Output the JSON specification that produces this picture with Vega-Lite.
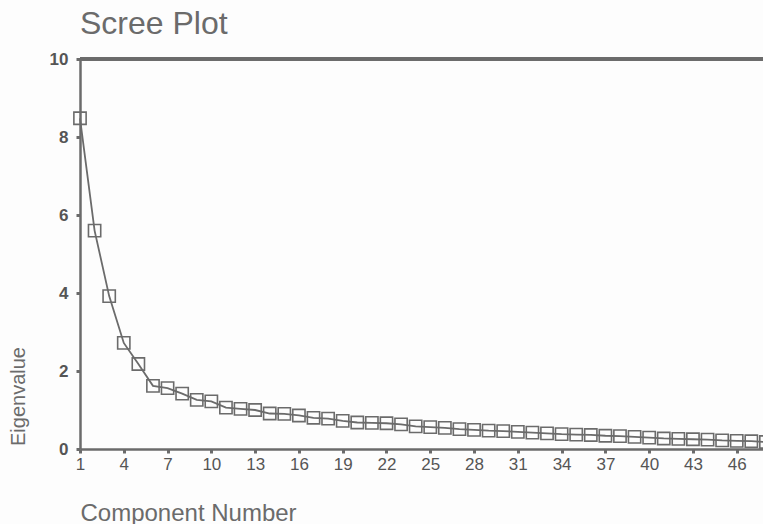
{
  "$schema": "https://vega.github.io/schema/vega-lite/v6.json",
  "width": 683,
  "height": 390,
  "autosize": {"type": "none"},
  "padding": {"left": 80, "top": 59, "right": 0, "bottom": 75},
  "background": "#fdfdfd",
  "config": {
    "font": "Liberation Sans",
    "view": {"stroke": null},
    "axis": {"domainColor": "#6b6b6b", "domainWidth": 2.5, "tickColor": "#6b6b6b", "tickWidth": 3, "tickSize": 4, "grid": false, "labelColor": "#555555", "labelFont": "Liberation Sans", "titleColor": "#6b6b6b", "titleFont": "Liberation Sans", "titleFontWeight": "normal"}
  },
  "title": {"text": "Scree Plot", "anchor": "start", "frame": "group", "fontSize": 32, "fontWeight": "normal", "color": "#6b6b6b", "offset": 9, "font": "Liberation Sans"},
  "data": {"values": [
    {"component": 1, "eigenvalue": 8.48},
    {"component": 2, "eigenvalue": 5.6},
    {"component": 3, "eigenvalue": 3.92},
    {"component": 4, "eigenvalue": 2.72},
    {"component": 5, "eigenvalue": 2.18},
    {"component": 6, "eigenvalue": 1.62},
    {"component": 7, "eigenvalue": 1.56},
    {"component": 8, "eigenvalue": 1.42},
    {"component": 9, "eigenvalue": 1.26},
    {"component": 10, "eigenvalue": 1.22},
    {"component": 11, "eigenvalue": 1.06},
    {"component": 12, "eigenvalue": 1.03},
    {"component": 13, "eigenvalue": 1.0},
    {"component": 14, "eigenvalue": 0.91},
    {"component": 15, "eigenvalue": 0.9},
    {"component": 16, "eigenvalue": 0.86},
    {"component": 17, "eigenvalue": 0.8},
    {"component": 18, "eigenvalue": 0.78},
    {"component": 19, "eigenvalue": 0.72},
    {"component": 20, "eigenvalue": 0.68},
    {"component": 21, "eigenvalue": 0.67},
    {"component": 22, "eigenvalue": 0.66},
    {"component": 23, "eigenvalue": 0.63},
    {"component": 24, "eigenvalue": 0.58},
    {"component": 25, "eigenvalue": 0.56},
    {"component": 26, "eigenvalue": 0.54},
    {"component": 27, "eigenvalue": 0.51},
    {"component": 28, "eigenvalue": 0.49},
    {"component": 29, "eigenvalue": 0.47},
    {"component": 30, "eigenvalue": 0.46},
    {"component": 31, "eigenvalue": 0.44},
    {"component": 32, "eigenvalue": 0.42},
    {"component": 33, "eigenvalue": 0.4},
    {"component": 34, "eigenvalue": 0.38},
    {"component": 35, "eigenvalue": 0.37},
    {"component": 36, "eigenvalue": 0.36},
    {"component": 37, "eigenvalue": 0.34},
    {"component": 38, "eigenvalue": 0.33},
    {"component": 39, "eigenvalue": 0.31},
    {"component": 40, "eigenvalue": 0.29},
    {"component": 41, "eigenvalue": 0.27},
    {"component": 42, "eigenvalue": 0.26},
    {"component": 43, "eigenvalue": 0.25},
    {"component": 44, "eigenvalue": 0.24},
    {"component": 45, "eigenvalue": 0.22},
    {"component": 46, "eigenvalue": 0.21},
    {"component": 47, "eigenvalue": 0.2},
    {"component": 48, "eigenvalue": 0.18}
  ]},
  "encoding": {
    "x": {"field": "component", "type": "quantitative", "scale": {"domain": [1, 47.8], "nice": false, "zero": false},
      "axis": {"values": [1, 4, 7, 10, 13, 16, 19, 22, 25, 28, 31, 34, 37, 40, 43, 46], "title": "Component Number", "titleFontSize": 24, "titleAnchor": "start", "titleAlign": "left", "titleX": 0, "titleY": 71, "titleBaseline": "alphabetic", "labelPadding": 3, "labelFontSize": 17, "labelFontWeight": "normal", "labelFlush": false}},
    "y": {"field": "eigenvalue", "type": "quantitative", "scale": {"domain": [0, 10], "nice": false},
      "axis": {"values": [0, 2, 4, 6, 8, 10], "title": "Eigenvalue", "titleFontSize": 20, "titleAngle": -90, "titleX": -62, "titleY": 337, "titleAlign": "center", "titleBaseline": "middle", "labelPadding": 8, "labelFontSize": 17, "labelFontWeight": "bold"}}
  },
  "layer": [
    {"mark": {"type": "rule", "color": "#6b6b6b", "strokeWidth": 2.5}, "encoding": {"y": {"datum": 10}, "x": null}},
    {"mark": {"type": "line", "color": "#6b6b6b", "strokeWidth": 1.8}},
    {"mark": {"type": "point", "shape": "square", "filled": false, "size": 150, "stroke": "#6b6b6b", "strokeWidth": 1.6, "opacity": 1}}
  ]
}
